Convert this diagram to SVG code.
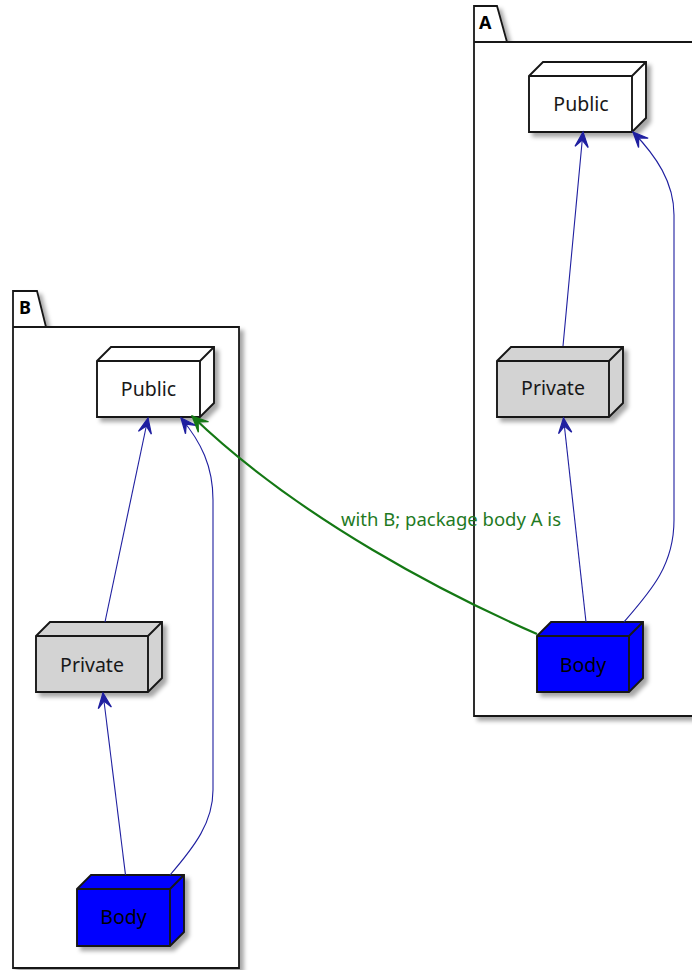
<svg xmlns="http://www.w3.org/2000/svg" width="692" height="970" viewBox="0 0 692 970">
<defs>
<filter id="sh" x="-20%" y="-20%" width="150%" height="150%">
<feDropShadow dx="4" dy="4" stdDeviation="2.2" flood-color="#000" flood-opacity="0.35"/>
</filter>
<marker id="ab" markerUnits="userSpaceOnUse" markerWidth="20" markerHeight="20" viewBox="-14 -8 16 16" refX="0" refY="0" orient="auto">
<path d="M0,0 L-12,-5.3 L-6.5,0 L-12,5.3 Z" fill="#1f1fa0" stroke="#1f1fa0" stroke-width="1"/>
</marker>
<marker id="ag" markerUnits="userSpaceOnUse" markerWidth="22" markerHeight="22" viewBox="-15 -9 18 18" refX="0" refY="0" orient="auto">
<path d="M0,0 L-13,-6 L-7,0 L-13,6 Z" fill="#147814" stroke="#147814" stroke-width="1"/>
</marker>
</defs>
<style>
.pkg{fill:#fff;stroke:#181818;stroke-width:1.8}
.pkgl{fill:none;stroke:#181818;stroke-width:1.8}
.pt{font-family:"Noto Sans","Open Sans",sans-serif;font-weight:bold;font-size:18px;fill:#000}
.nd{stroke:#181818;stroke-width:1.9;stroke-linejoin:miter}
.nt{font-family:"Noto Sans","Open Sans",sans-serif;font-size:19.5px;text-anchor:middle;fill:#181818}
.bt{fill:#000}
.pub{fill:#fff}
.prv{fill:#d3d3d3}
.bod{fill:#0000ff}
.e{fill:none;stroke:#1f1fa0;stroke-width:1.1;marker-end:url(#ab)}
.g{fill:none;stroke:#147814;stroke-width:2.2;marker-end:url(#ag)}
.lt{font-family:"Noto Sans","Open Sans",sans-serif;font-size:18.5px;fill:#1f7a1f}
</style>

<g id="pkgA">
<path class="pkg" filter="url(#sh)" d="M474,716 L474,6 L497,6 L507,42 L700,42 L700,716 Z"/>
<path class="pkgl" d="M474,42 L507,42"/>
<text class="pt" x="479" y="29">A</text>
</g>
<g id="pkgB">
<path class="pkg" filter="url(#sh)" d="M13,968 L13,291 L37,291 L46,327 L239,327 L239,968 Z"/>
<path class="pkgl" d="M13,327 L46,327"/>
<text class="pt" x="19" y="314">B</text>
</g>

<g id="A.Public">
<g filter="url(#sh)">
<path class="nd pub" d="M529,76 L543,62 L646,62 L646,118 L632,132 L529,132 Z"/>
</g>
<path class="nd" fill="none" d="M529,76 L632,76 L632,132 M632,76 L646,62"/>
<text class="nt" x="581" y="111">Public</text>
</g>

<g id="A.Private">
<g filter="url(#sh)">
<path class="nd prv" d="M497,361 L511,347 L623,347 L623,403 L609,417 L497,417 Z"/>
</g>
<path class="nd" fill="none" d="M497,361 L609,361 L609,417 M609,361 L623,347"/>
<text class="nt" x="553" y="395">Private</text>
</g>

<g id="A.Body">
<g filter="url(#sh)">
<path class="nd bod" d="M537,636 L551,622 L643,622 L643,678 L629,692 L537,692 Z"/>
</g>
<path class="nd" fill="none" d="M537,636 L629,636 L629,692 M629,636 L643,622"/>
<text class="nt bt" x="583" y="672">Body</text>
</g>

<g id="B.Public">
<g filter="url(#sh)">
<path class="nd pub" d="M97,361 L111,347 L214,347 L214,403 L200,417 L97,417 Z"/>
</g>
<path class="nd" fill="none" d="M97,361 L200,361 L200,417 M200,361 L214,347"/>
<text class="nt" x="148.5" y="396">Public</text>
</g>

<g id="B.Private">
<g filter="url(#sh)">
<path class="nd prv" d="M36,636 L50,622 L162,622 L162,678 L148,692 L36,692 Z"/>
</g>
<path class="nd" fill="none" d="M36,636 L148,636 L148,692 M148,636 L162,622"/>
<text class="nt" x="92" y="672">Private</text>
</g>

<g id="B.Body">
<g filter="url(#sh)">
<path class="nd bod" d="M77,889 L91,875 L184,875 L184,932 L170,946 L77,946 Z"/>
</g>
<path class="nd" fill="none" d="M77,889 L170,889 L170,946 M170,889 L184,875"/>
<text class="nt bt" x="123.5" y="924">Body</text>
</g>

<g id="connectors">
<path class="e" d="M563,346 L583,132"/>
<path class="e" d="M586,622 L563.5,418"/>
<path class="e" d="M624,622 C650,592 674,566 674,520 L674,215 C674,182 656,156 633,132"/>
<path class="e" d="M105,622 L148,418"/>
<path class="e" d="M125.5,875 L103,693"/>
<path class="e" d="M170,875 C195,846 213,822 213,790 L213,500 C213,466 201,442 181,418"/>
<path class="g" d="M537,634 C450,596 300,520 192,416"/>
<text class="lt" x="341" y="526">with B; package body A is</text>
</g>
</svg>
